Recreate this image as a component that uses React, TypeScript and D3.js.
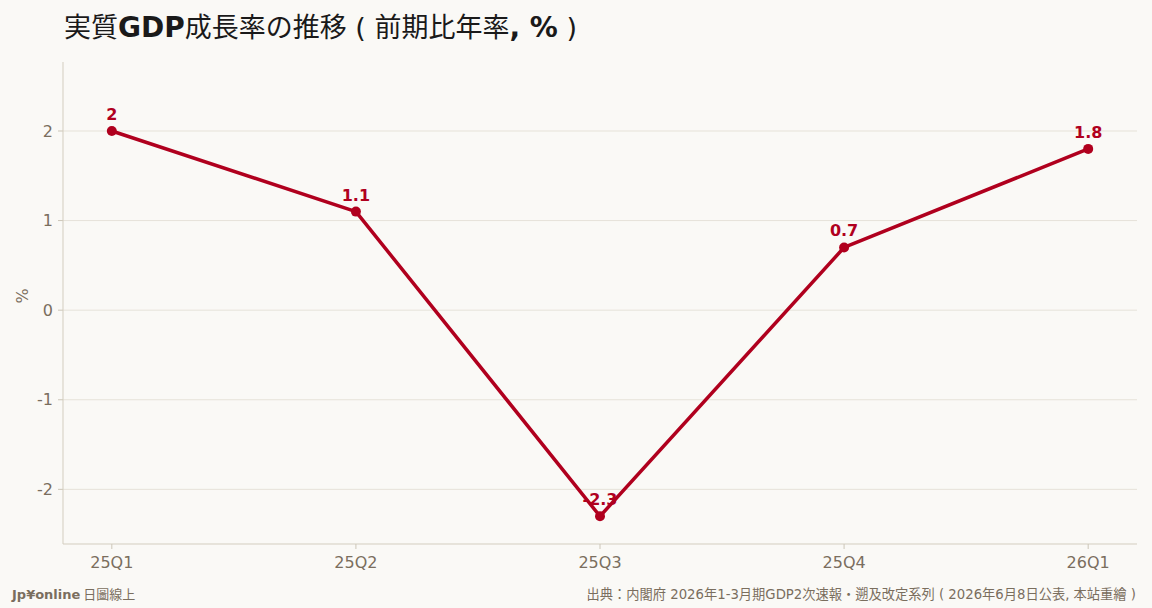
import { scalePoint, scaleLinear, line } from "d3"

const quarters = ["25Q1", "25Q2", "25Q3", "25Q4", "26Q1"]
const growth = [2.0, 1.1, -2.3, 0.7, 1.8]
const yTicks = [-2, -1, 0, 1, 2]

const W = 1152, H = 608
const ML = 63, MT = 62, MR = 15, MB = 64
const RED = "#b0001e"
const INK = "#7a6e5e"
const LATIN = "'DejaVu Sans', 'Noto Sans CJK JP', sans-serif"
const CJK = "'Noto Sans CJK JP', 'DejaVu Sans', sans-serif"

export default function App() {
  const IW = W - ML - MR, IH = H - MT - MB
  const x = scalePoint<string>().domain(quarters).range([0, IW]).padding(0.2)
  const y = scaleLinear().domain([-2.61, 2.77]).range([IH, 0])
  const pts = quarters.map((q, i) => ({ q, v: growth[i] }))
  const path = line<{ q: string; v: number }>().x(d => x(d.q)!).y(d => y(d.v))(pts)!

  return (
    <svg width={W} height={H} style={{ display: "block", position: "absolute", left: 0, top: 0, background: "#faf9f6" }}>
      <rect width={W} height={H} fill="#faf9f6" />
      <text x={64} y={37} fontSize={27} fill="#1a1a1a">
        <tspan fontFamily={CJK}>実質</tspan>
        <tspan fontFamily={LATIN} fontWeight="bold" fontSize={28}>GDP</tspan>
        <tspan fontFamily={CJK}>成長率の推移</tspan>
        <tspan fontFamily={LATIN}> ( </tspan>
        <tspan fontFamily={CJK}>前期比年率</tspan>
        <tspan fontFamily={LATIN} fontWeight="bold" fontSize={28}>, %</tspan>
        <tspan fontFamily={LATIN}> )</tspan>
      </text>

      <g transform={`translate(${ML},${MT})`}>
        {yTicks.map(t => (
          <g key={t} transform={`translate(0,${y(t)})`}>
            <line x1={0} x2={IW} stroke="#e6e2d9" strokeWidth={1} />
            <line x1={-5} x2={0} stroke="#ccc6b8" />
            <text x={-10} dy="0.35em" textAnchor="end" fontSize={16} fill={INK} fontFamily={LATIN}>{t}</text>
          </g>
        ))}
        <line x1={0} x2={0} y1={0} y2={IH} stroke="#d3cdbf" />
        <line x1={0} x2={IW} y1={IH} y2={IH} stroke="#d3cdbf" />
        {quarters.map(q => (
          <g key={q} transform={`translate(${x(q)},${IH})`}>
            <line y2={5} stroke="#ccc6b8" />
            <text y={24} textAnchor="middle" fontSize={16} fill={INK} fontFamily={LATIN}>{q}</text>
          </g>
        ))}
        <text transform={`translate(${-35},${IH / 2 - 7}) rotate(-90)`} textAnchor="middle" fontSize={16} fill={INK} fontFamily={LATIN}>%</text>

        {pts.map(d => (
          <text key={d.q} x={x(d.q)} y={y(d.v) - 11} textAnchor="middle" fontSize={16} fontWeight="bold" fill={RED} fontFamily={LATIN}>{d.v}</text>
        ))}
        <path d={path} fill="none" stroke={RED} strokeWidth={3.5} strokeLinejoin="round" />
        {pts.map(d => (
          <circle key={d.q} cx={x(d.q)} cy={y(d.v)} r={5} fill={RED} />
        ))}
      </g>

      <text x={12} y={599} fontSize={13} fill={INK}>
        <tspan fontFamily={LATIN} fontWeight="bold">Jp¥online</tspan>
        <tspan fontFamily={CJK}> 日圖線上</tspan>
      </text>
      <text x={1136} y={599} fontSize={13.25} fill={INK} textAnchor="end" fontFamily={LATIN}>
        出典：内閣府 2026年1-3月期GDP2次速報・遡及改定系列 ( 2026年6月8日公表, 本站重繪 )
      </text>
    </svg>
  )
}
